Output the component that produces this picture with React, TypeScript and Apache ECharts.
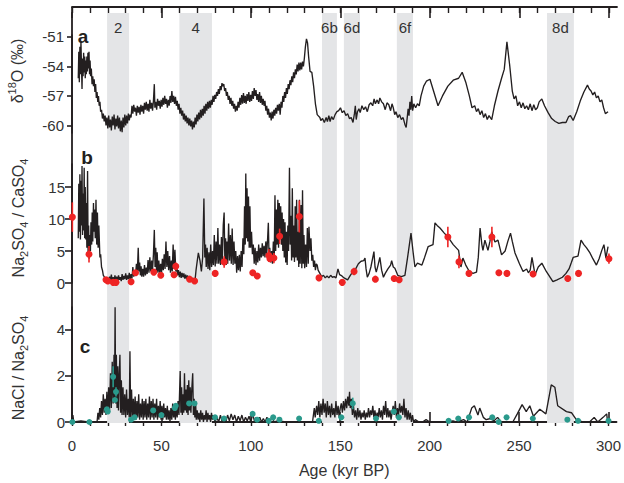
import React, { useEffect, useRef } from "react";
import * as echarts from "echarts";

const ageMajor = [0, 50, 100, 150, 200, 250, 300];
const ageMinor = [0, 10, 20, 30, 40, 50, 60, 70, 80, 90, 100, 110, 120, 130, 140, 150, 160, 170, 180, 190, 200, 210, 220, 230, 240, 250, 260, 270, 280, 290, 300];
const d18OTicks = [-60, -57, -54, -51];
const ratioBTicks = [0, 5, 10, 15];
const ratioCTicks = [0, 2, 4];

const stages = [
  { name: "2", from: 19.6, to: 31.9 },
  { name: "4", from: 60.0, to: 78.2 },
  { name: "6b", from: 139.7, to: 148.0 },
  { name: "6d", from: 151.9, to: 160.9 },
  { name: "6f", from: 181.5, to: 190.5 },
  { name: "8d", from: 265.4, to: 280.4 },
];

// panel a: δ18O (‰) vs age (kyr BP)
const d18O: [number, number][] = [
  [3.5,-55.2],[3.8,-52.5],[4.1,-55.6],[4.4,-52.0],[4.7,-54.8],[5.0,-51.5],[5.3,-54.0],[5.6,-56.3],[5.9,-53.2],[6.2,-55.0],[6.5,-52.6],[6.8,-54.6],[7.1,-53.0],[7.4,-55.2],[7.7,-53.4],[8.0,-54.8],[8.3,-53.0],[8.6,-54.5],[8.9,-52.6],[9.2,-54.2],[9.5,-52.5],[9.8,-54.8],[10.1,-53.4],[10.4,-55.0],[10.8,-54.2],[11.2,-55.8],[11.6,-55.0],[12.0,-56.0],[12.4,-55.3],[12.8,-56.6],[13.2,-55.8],[13.6,-57.2],[14.0,-56.6],[14.4,-57.6],[14.8,-57.0],[15.2,-58.0],[15.6,-57.6],[16.0,-58.6],[16.5,-58.4],[17.0,-59.3],[17.5,-58.8],[18.0,-59.6],
  [18.5,-59.0],[19.0,-60.0],[19.5,-59.2],[20.0,-60.3],[20.5,-59.0],[21.0,-60.2],[21.5,-59.4],[22.0,-60.5],[22.5,-59.1],[23.0,-60.0],[23.5,-58.9],[24.0,-60.4],[24.5,-59.3],[25.0,-60.1],[25.5,-59.0],[26.0,-60.3],[26.5,-59.2],[27.0,-60.6],[27.5,-59.5],[28.0,-60.7],[28.5,-59.2],[29.0,-60.2],[29.5,-58.9],[30.0,-60.0],[30.5,-59.0],[31.0,-59.8],[31.5,-58.8],[32.0,-59.5],[32.5,-58.9],[33.0,-59.2],
  [33.5,-58.0],[34.0,-58.8],[34.5,-57.9],[35.0,-58.6],[35.5,-58.2],[36.0,-59.0],[36.5,-58.0],[37.0,-58.7],[37.5,-58.1],[38.0,-58.9],[38.5,-57.9],[39.0,-58.6],[39.5,-58.0],[40.0,-58.8],[40.5,-57.7],[41.0,-58.4],[41.5,-57.6],[42.0,-58.5],[42.5,-57.8],[43.0,-58.6],[43.5,-57.4],[44.0,-58.3],[44.5,-57.7],[45.0,-58.5],[45.5,-57.5],[46.0,-55.8],[46.3,-58.2],[46.8,-57.6],[47.3,-58.4],[47.8,-57.3],[48.3,-58.0],[48.8,-57.5],[49.3,-58.3],[49.8,-57.4],[50.3,-58.1],[50.8,-57.2],[51.3,-57.9],[51.8,-57.0],[52.3,-57.8],[52.8,-57.3],[53.3,-58.2],[53.8,-57.4],[54.3,-58.0],[54.8,-57.0],[55.3,-57.7],[55.8,-56.5],[56.3,-57.6],[56.8,-57.0],[57.3,-57.8],[57.8,-57.1],[58.3,-58.0],[58.8,-57.5],[59.3,-58.4],[59.8,-57.8],
  [60.3,-58.8],[60.8,-58.2],[61.3,-59.0],[61.8,-58.5],[62.3,-59.4],[62.8,-58.8],[63.3,-59.6],[63.8,-59.0],[64.3,-59.8],[64.8,-59.2],[65.3,-60.0],[65.8,-59.3],[66.3,-60.1],[66.8,-59.5],[67.3,-60.4],[67.8,-59.6],[68.3,-60.2],[68.8,-59.2],[69.3,-59.9],[69.8,-58.9],[70.3,-59.6],[70.8,-58.7],[71.3,-59.4],[71.8,-58.4],[72.3,-59.2],[72.8,-58.3],[73.3,-59.0],[73.8,-58.0],[74.3,-58.8],[74.8,-57.8],[75.3,-58.5],[75.8,-57.6],[76.3,-58.3],[76.8,-57.5],[77.3,-58.2],[77.8,-57.4],[78.3,-57.9],[78.8,-57.0],[79.3,-57.6],[79.8,-56.9],[80.3,-57.3],[80.8,-56.6],[81.3,-57.0],[81.8,-56.3],[82.3,-56.8],[82.8,-56.0],[83.3,-56.4],[83.8,-55.7],[84.3,-56.0],[84.8,-55.8],[85.3,-56.5],[85.8,-56.2],[86.3,-57.0],[86.8,-56.6],[87.3,-57.4],[87.8,-57.0],[88.3,-57.8],[88.8,-57.2],[89.3,-58.0],[89.8,-57.5],[90.3,-58.3],[90.8,-57.8],[91.3,-58.6],[91.8,-58.0],[92.3,-58.5],[92.8,-57.6],[93.3,-58.2],[93.8,-57.2],[94.3,-57.9],[94.8,-56.9],[95.3,-57.8],[95.8,-56.7],[96.3,-57.7],[96.8,-57.0],[97.3,-57.8],[97.8,-56.8],[98.3,-57.5],[98.8,-56.6],[99.3,-57.6],[99.8,-56.9],[100.3,-57.5],[100.8,-56.5],[101.3,-57.3],[101.8,-56.2],[102.3,-57.0],[102.8,-56.4],[103.3,-57.4],[103.8,-56.8],[104.3,-57.6],[104.8,-56.6],[105.3,-57.7],[105.8,-57.0],[106.3,-57.9],[106.8,-57.3],[107.3,-58.0],[107.8,-57.5],[108.3,-58.5],[108.8,-58.0],[109.3,-58.9],[109.8,-58.3],[110.3,-59.2],[110.8,-58.7],[111.3,-59.5],[111.8,-58.6],[112.3,-59.3],[112.8,-58.4],[113.3,-59.0],[113.8,-58.2],[114.3,-58.8],[114.8,-57.9],[115.3,-58.5],[115.8,-57.8],[116.3,-58.9],[116.8,-57.6],[117.3,-58.2],[117.8,-57.0],[118.3,-57.6],[118.8,-56.6],[119.3,-57.2],[119.8,-56.2],[120.3,-56.8],[120.8,-55.8],[121.3,-56.3],[121.8,-55.4],[122.3,-55.9],[122.8,-55.0],[123.3,-55.6],[123.8,-54.6],[124.3,-55.2],[124.8,-54.3],[125.3,-54.8],[125.8,-53.8],[126.3,-54.5],[126.8,-53.6],[127.3,-54.4],[127.8,-53.6],[128.3,-54.3],[128.8,-53.5],[129.3,-54.0],[129.8,-53.2],[130.4,-52.0],[131.0,-51.2],[131.6,-51.6],[132.2,-53.0],[133.0,-54.5],[134.0,-54.6],[135.0,-56.0],[136.0,-57.8],[137.0,-58.9],
  [137.5,-59.0],[138.5,-59.2],[139.0,-59.5],[140.0,-59.3],[141.0,-59.7],[142.0,-59.2],[142.7,-59.6],[143.5,-59.0],[144.2,-59.6],[145.0,-59.1],[146.0,-59.4],[147.0,-58.9],[148.0,-58.6],[149.0,-58.5],[150.0,-58.2],[151.0,-58.7],[152.0,-58.5],[153.0,-59.0],[154.0,-58.8],[155.0,-59.3],[156.0,-59.2],[157.0,-59.7],[157.8,-58.8],[158.3,-58.0],[158.8,-59.4],[159.5,-58.6],[160.3,-58.3],[161.0,-58.7],[162.0,-58.0],[163.0,-58.4],[164.0,-58.1],[165.0,-58.6],[166.0,-57.9],[167.0,-57.7],[168.0,-58.0],[168.8,-57.3],[169.5,-57.8],[170.5,-57.4],[171.3,-57.8],[172.0,-57.2],[173.0,-57.6],[174.0,-57.8],[175.0,-58.4],[176.0,-57.7],[177.0,-57.9],[178.0,-58.5],[178.8,-57.8],[179.5,-58.2],[180.3,-58.9],[181.0,-58.6],[182.0,-59.2],[183.0,-58.9],[184.0,-59.4],[185.0,-59.2],[186.0,-59.9],[186.7,-60.2],[187.3,-59.2],[187.8,-58.3],[188.3,-59.0],[188.8,-57.6],[189.3,-58.4],[189.8,-57.0],[190.3,-58.5],[191.0,-57.8],[192.0,-58.2],[193.0,-57.8],[194.0,-58.0],[195.0,-57.0],[196.5,-56.0],[198.0,-55.5],[200.0,-55.3],[202.0,-56.5],[204.5,-58.0],[207.0,-57.0],[210.0,-56.0],[213.0,-55.4],[216.0,-55.2],[218.0,-54.6],[220.0,-55.6],[222.0,-57.0],[223.5,-58.2],[225.0,-58.0],[226.0,-58.6],[227.0,-58.3],[228.0,-58.9],[229.0,-58.5],[230.0,-59.2],[231.0,-58.8],[232.0,-59.4],[233.0,-59.0],[234.5,-59.4],[236.0,-58.0],[238.0,-56.5],[240.0,-55.2],[241.5,-54.3],[243.0,-51.5],[244.5,-53.8],[246.0,-56.5],[247.0,-57.3],[248.0,-57.0],[249.0,-58.0],[250.0,-57.6],[251.0,-58.2],[252.0,-57.7],[253.0,-58.3],[254.0,-58.0],[255.0,-58.4],[256.0,-57.8],[257.0,-58.5],[258.0,-57.9],[259.0,-58.4],[260.0,-58.2],[261.0,-57.6],[262.5,-57.3],[264.0,-58.0],[266.0,-58.7],[268.0,-59.3],[270.0,-59.6],[272.0,-59.8],[274.0,-59.7],[276.0,-59.7],[277.5,-59.1],[278.5,-59.0],[280.0,-59.5],[282.0,-58.6],[284.0,-57.5],[286.0,-56.6],[288.0,-55.9],[289.0,-56.3],[290.0,-56.5],[291.0,-56.9],[292.0,-56.6],[293.0,-57.2],[294.0,-57.0],[295.0,-57.6],[296.0,-57.4],[297.0,-58.2],[298.0,-58.8],[299.5,-58.6],
];

// panel b: Na2SO4 / CaSO4
const naSO4: [number, number][] = [
  [3.5,7.0],[3.8,15.5],[4.1,8.0],[4.4,17.0],[4.7,6.8],[5.0,16.0],[5.3,9.0],[5.6,18.3],[5.9,7.5],[6.2,14.0],[6.5,8.2],[6.8,18.0],[7.1,7.0],[7.4,15.0],[7.7,6.8],[8.0,12.5],[8.3,5.5],[8.7,17.5],[9.0,4.2],[9.3,9.0],[9.6,3.8],[10.0,7.5],[10.3,5.0],[10.6,9.5],[11.0,6.0],[11.3,11.0],[11.6,6.5],[12.0,12.5],[12.3,8.0],[12.6,11.5],[13.0,7.0],[13.4,13.0],[13.8,6.0],[14.2,11.0],[14.6,5.5],[15.0,9.0],[15.6,4.0],[16.0,4.5],[16.5,2.5],[17.0,2.0],[17.5,1.2],[18.0,1.0],[18.5,0.5],[19.0,0.9],[19.5,0.3],[20.0,0.8],[20.5,0.2],[21.0,1.0],[21.5,0.4],[22.0,1.3],[22.5,0.2],[23.0,0.9],[23.5,0.3],[24.0,1.2],[24.5,0.4],[25.0,1.0],[25.5,0.3],[26.0,1.2],[26.5,0.5],[27.0,0.9],[27.5,0.3],[28.0,1.4],[28.5,0.5],[29.0,1.1],[29.5,0.6],[30.0,1.5],[30.5,0.5],[31.0,1.2],[31.5,0.6],[32.0,1.6],[32.5,0.5],[33.0,1.4],[33.5,0.7],[34.0,2.5],[34.5,1.0],[35.0,2.0],[35.5,1.2],[36.0,3.0],[36.5,1.5],[37.0,5.5],[37.4,1.8],[37.8,3.2],[38.2,1.2],[38.6,2.6],[39.0,1.0],[39.5,2.2],[40.0,1.0],[40.5,2.8],[41.0,1.2],[41.5,2.4],[42.0,1.4],[42.5,3.6],[43.0,1.6],[43.5,4.0],[44.0,1.8],[44.5,3.5],[45.0,2.0],[45.5,4.5],[46.0,8.3],[46.4,2.5],[46.8,5.5],[47.2,1.8],[47.6,4.8],[48.0,1.6],[48.5,3.5],[49.0,1.4],[49.5,3.0],[50.0,1.5],[50.5,3.8],[51.0,2.0],[51.5,4.5],[52.0,2.2],[52.5,6.5],[53.0,2.5],[53.5,5.0],[54.0,2.0],[54.5,4.2],[55.0,1.6],[55.5,3.5],[56.0,1.8],[56.5,6.0],[57.0,2.2],[57.5,5.2],[58.0,1.8],[58.6,2.5],[59.0,1.2],[59.5,2.0],[60.0,0.9],[60.5,1.8],[61.0,0.8],[61.5,1.6],[62.0,0.9],[62.5,1.5],[63.0,0.7],[63.5,1.3],[64.0,0.6],[64.5,1.2],[65.0,0.6],[65.5,1.0],[66.0,0.5],[66.5,0.9],[67.0,0.4],[67.5,0.8],[68.0,0.4],[68.7,0.3],[69.3,2.0],[70.0,3.5],[70.6,4.7],[71.5,3.5],[72.3,1.8],[73.0,4.0],[73.7,13.2],[74.2,4.0],[74.6,6.0],[75.0,2.5],[75.5,5.5],[76.0,2.2],[76.5,4.8],[77.0,2.0],[77.5,6.0],[78.0,2.5],[78.5,5.0],[79.0,2.8],[79.5,7.5],[80.0,2.6],[80.5,6.5],[81.0,3.0],[81.5,8.6],[82.0,3.0],[82.5,6.0],[83.0,2.8],[83.5,7.2],[84.0,3.2],[84.5,9.0],[85.0,11.0],[85.4,3.5],[85.8,7.0],[86.2,2.8],[86.6,6.5],[87.0,3.0],[87.5,9.3],[88.0,3.5],[88.5,7.5],[89.0,3.0],[89.5,8.5],[90.0,2.8],[90.5,6.5],[91.0,3.0],[91.5,5.0],[92.0,1.6],[92.5,4.2],[93.0,2.0],[93.5,4.4],[94.0,1.8],[94.5,5.0],[95.0,2.5],[95.5,7.0],[96.0,4.5],[96.4,12.0],[96.8,6.0],[97.1,17.1],[97.4,7.0],[97.8,14.8],[98.2,6.5],[98.6,13.5],[99.0,5.5],[99.4,12.0],[99.8,5.5],[100.3,8.0],[100.8,4.5],[101.3,6.0],[101.8,3.0],[102.3,5.5],[102.8,2.8],[103.3,5.0],[103.8,3.2],[104.3,6.0],[104.8,3.5],[105.3,5.5],[105.8,4.0],[106.3,6.2],[106.8,4.2],[107.3,5.8],[107.8,4.0],[108.3,6.5],[108.8,4.5],[109.3,7.0],[109.7,9.4],[110.1,4.0],[110.5,5.5],[111.0,3.2],[111.5,5.0],[112.0,3.0],[112.5,6.5],[113.0,4.0],[113.4,13.7],[113.8,5.0],[114.2,11.5],[114.6,6.0],[115.0,13.0],[115.4,5.5],[115.8,12.5],[116.2,7.0],[116.6,12.0],[117.0,6.0],[117.4,11.0],[117.8,5.0],[118.2,10.0],[118.6,4.0],[119.0,9.5],[119.4,3.2],[119.8,8.0],[120.2,2.8],[120.6,9.0],[121.0,5.0],[121.5,18.0],[121.9,6.0],[122.3,10.5],[122.7,3.5],[123.1,14.8],[123.5,4.0],[123.9,9.0],[124.3,3.3],[124.7,12.0],[125.1,4.0],[125.5,13.0],[125.9,3.5],[126.3,8.0],[126.7,2.5],[127.1,13.0],[127.5,3.0],[128.0,12.2],[128.4,2.3],[128.8,14.5],[129.2,3.0],[129.6,7.5],[130.0,2.3],[130.5,6.0],[131.0,2.5],[131.5,8.6],[132.0,3.0],[132.4,8.8],[133.0,5.0],[133.5,7.0],[134.0,3.5],[134.5,4.4],[135.0,2.5],[135.5,3.5],[136.0,2.0],[136.5,3.0],[137.0,2.8],[137.5,2.0],[138.5,1.5],[139.5,1.0],[140.5,1.2],[141.5,0.8],[142.5,1.1],[143.5,0.8],[144.5,1.2],[145.5,0.9],[146.5,1.0],[147.5,0.8],[148.6,2.2],[149.5,1.3],[150.8,1.1],[152.0,0.8],[154.0,0.5],[155.5,1.2],[157.0,1.8],[158.5,2.2],[160.0,3.0],[161.5,3.4],[163.0,3.5],[163.7,3.9],[164.3,2.2],[165.0,0.9],[166.0,1.5],[167.0,2.5],[168.7,4.9],[169.3,2.5],[170.0,1.7],[171.0,2.8],[172.0,4.0],[173.0,2.0],[174.0,0.9],[175.0,1.5],[176.5,2.2],[178.0,2.8],[178.6,3.5],[179.5,2.5],[180.4,2.3],[182.0,1.2],[184.0,1.0],[186.0,1.2],[187.5,4.0],[189.4,7.8],[190.5,5.0],[191.6,2.5],[193.0,3.1],[195.5,2.8],[197.0,4.0],[199.0,5.7],[201.7,6.0],[202.8,9.4],[204.0,9.0],[205.6,8.6],[208.0,7.8],[210.0,7.2],[213.0,6.0],[216.0,5.1],[217.3,2.5],[218.4,3.9],[220.0,2.8],[222.0,1.8],[224.0,1.5],[226.0,1.7],[227.0,4.0],[228.0,8.6],[229.0,6.0],[229.6,5.1],[230.7,6.7],[232.4,5.1],[233.5,6.5],[234.5,8.0],[236.3,6.4],[238.0,6.7],[240.0,4.4],[242.0,5.0],[243.5,6.5],[245.0,7.8],[246.0,6.5],[247.5,4.7],[250.0,3.0],[252.0,1.8],[254.0,2.2],[255.0,1.6],[256.0,2.0],[257.0,4.0],[258.7,1.3],[260.5,2.5],[262.5,3.1],[265.0,1.8],[268.7,0.2],[271.0,0.5],[274.0,0.9],[276.0,1.5],[277.7,2.2],[279.0,3.2],[280.0,4.0],[282.7,4.2],[284.4,6.7],[286.0,6.0],[287.5,5.5],[289.4,4.7],[291.0,3.8],[293.0,2.8],[294.5,3.8],[296.0,5.1],[297.2,6.0],[298.3,3.9],[299.5,5.7],
];

// panel b discrete samples: [age, value, error]
const naSO4Samples: [number, number, number][] = [
  [0.2,10.3,2.3],[9.5,4.5,1.3],[19.0,0.5,0],[20.0,0.3,0],[23.0,0.1,0],[24.6,0.1,0],[33.0,0.2,0],[35.5,1.6,0.3],[45.7,1.7,0.4],[49.6,1.2,0],[57.0,1.3,0],[58.0,2.6,0.6],[65.7,0.6,0],[68.5,0.3,0],[80.0,1.5,0],[85.0,3.3,0.9],[101.0,1.6,0],[103.5,1.1,0],[110.0,4.3,1.0],[110.6,3.8,0],[112.8,3.9,0.8],[116.0,7.3,1.2],[127.0,10.4,2.5],[138.0,0.8,0],[151.0,0.1,0],[157.6,1.8,0.6],[169.5,0.6,0],[180.0,0.7,0],[182.8,0.5,0],[210.0,7.2,1.6],[216.2,3.3,1.0],[221.8,1.5,0.5],[234.6,7.2,1.6],[238.5,1.6,0],[243.0,1.5,0],[257.6,1.4,0],[277.0,0.7,0],[283.0,1.5,0],[300.0,3.8,0.8],
];

// panel c: NaCl / Na2SO4
const naCl: [number, number][] = [
  [0.0,0.0],[0.5,0.3],[1.0,0.0],[5.0,0.05],[9.0,0.0],[13.0,0.0],[14.0,0.0],[14.5,0.4],[15.0,0.1],[15.5,0.6],[16.0,0.2],[16.5,0.9],[17.0,0.3],[17.5,1.2],[18.0,0.4],[18.5,1.0],[19.0,0.3],[19.5,1.3],[20.0,0.4],[20.5,1.5],[21.0,0.5],[21.5,2.1],[22.0,0.6],[22.5,2.6],[23.0,0.8],[23.5,2.9],[23.8,1.0],[24.1,4.95],[24.4,0.8],[24.8,2.9],[25.2,0.6],[25.6,2.4],[26.0,0.5],[26.4,2.0],[26.8,2.9],[27.2,0.4],[27.6,1.8],[28.0,0.3],[28.5,1.5],[29.0,0.3],[29.5,1.2],[30.0,0.2],[30.5,1.4],[31.0,0.3],[31.5,1.0],[32.0,0.2],[32.4,3.05],[32.8,0.2],[33.3,1.4],[33.8,0.1],[34.3,1.0],[34.8,0.2],[35.3,1.1],[35.8,0.1],[36.3,0.9],[36.8,0.2],[37.3,1.2],[37.8,0.1],[38.3,0.8],[38.8,0.2],[39.3,1.0],[39.8,0.1],[40.3,0.9],[40.8,0.2],[41.3,1.0],[41.8,0.1],[42.3,0.8],[42.8,0.2],[43.3,1.1],[43.8,0.1],[44.3,0.9],[44.8,0.2],[45.3,1.0],[45.8,0.1],[46.3,0.8],[46.8,0.2],[47.3,1.0],[47.8,0.1],[48.3,0.7],[48.8,0.2],[49.3,0.9],[49.8,0.1],[50.3,0.7],[50.8,0.1],[51.3,0.8],[51.8,0.2],[52.3,0.6],[52.8,0.1],[53.3,0.7],[53.8,0.1],[54.3,0.5],[54.8,0.0],[55.3,0.6],[55.8,0.1],[56.3,0.8],[56.8,0.2],[57.3,0.5],[57.8,0.1],[58.3,0.7],[58.8,0.2],[59.3,0.9],[59.8,0.3],[60.5,2.2],[60.9,0.4],[61.3,1.5],[61.7,0.3],[62.1,1.2],[62.5,0.4],[62.9,2.1],[63.3,0.5],[63.7,1.4],[64.1,0.4],[64.5,1.6],[64.9,0.3],[65.3,1.8],[65.7,0.5],[66.1,1.5],[66.5,0.4],[66.9,1.3],[67.5,2.1],[67.9,0.3],[68.3,1.0],[68.7,0.2],[69.1,0.9],[69.5,0.1],[70.0,0.5],[70.5,0.1],[71.0,0.4],[71.5,0.0],[72.0,0.5],[72.5,0.1],[73.0,0.4],[73.5,0.0],[74.0,0.3],[74.5,0.1],[75.0,0.5],[75.5,0.0],[76.0,0.4],[76.5,0.1],[77.0,0.3],[77.5,0.0],[78.0,0.4],[78.5,0.1],[79.0,0.3],[80.0,0.0],[81.0,0.2],[82.0,0.0],[83.0,0.3],[84.0,0.0],[85.0,0.15],[86.0,0.0],[87.0,0.3],[88.0,0.05],[89.0,0.35],[90.0,0.1],[91.0,0.3],[92.0,0.0],[93.0,0.25],[94.0,0.05],[95.0,0.3],[96.0,0.0],[97.0,0.2],[98.0,0.05],[99.0,0.25],[100.0,0.0],[101.0,0.35],[102.0,0.05],[103.0,0.2],[104.0,0.0],[105.0,0.2],[106.0,0.0],[107.0,0.15],[108.0,0.0],[109.0,0.2],[110.0,0.0],[112.0,0.2],[113.0,0.0],[115.0,0.05],[120.0,0.0],[125.0,0.0],[130.0,0.0],[134.5,0.0],[135.5,0.6],[136.0,0.2],[136.8,0.7],[137.4,0.3],[138.0,0.9],[138.6,0.2],[139.2,0.8],[139.8,0.3],[140.4,1.0],[141.0,0.4],[141.6,0.8],[142.2,0.2],[142.8,0.9],[143.4,0.3],[144.0,0.7],[144.6,0.2],[145.2,0.8],[145.8,0.3],[146.4,0.6],[147.0,0.2],[147.6,0.9],[148.2,0.3],[148.8,0.7],[149.4,0.2],[150.0,0.6],[150.6,0.8],[151.2,0.4],[151.8,0.9],[152.4,0.5],[153.0,1.0],[153.6,0.6],[154.2,1.1],[154.8,0.7],[155.2,1.3],[155.6,0.6],[156.2,1.0],[156.8,0.3],[157.4,0.7],[158.0,0.2],[158.6,0.5],[159.2,0.1],[159.8,0.6],[160.4,0.2],[161.0,0.5],[161.6,0.1],[162.2,0.4],[162.8,0.2],[163.4,0.5],[164.0,0.1],[164.6,0.4],[165.2,0.2],[165.8,0.6],[166.4,0.2],[167.0,0.5],[167.6,0.3],[168.2,0.7],[168.8,0.2],[169.4,0.5],[170.0,0.1],[170.6,0.4],[171.2,0.2],[171.8,0.6],[172.4,0.2],[173.0,0.5],[173.6,0.1],[174.2,0.7],[174.8,0.3],[175.4,0.9],[176.0,0.2],[176.6,0.6],[177.2,0.2],[177.8,0.5],[178.4,0.1],[179.0,0.4],[179.6,0.7],[180.2,0.3],[180.8,0.9],[181.4,0.2],[182.0,0.6],[182.6,0.3],[183.2,0.8],[183.8,0.4],[184.4,0.7],[185.0,0.3],[185.6,1.0],[186.2,0.2],[186.8,0.6],[187.4,0.1],[188.0,0.5],[188.6,0.1],[189.2,0.4],[189.8,0.0],[190.4,0.3],[191.0,0.0],[192.0,0.1],[194.0,0.0],[196.0,0.0],[198.0,0.1],[200.0,0.0],[205.0,0.0],[210.0,0.0],[213.0,0.05],[215.0,0.0],[219.0,0.1],[221.0,0.0],[223.5,0.6],[225.0,0.7],[227.0,0.3],[228.0,0.6],[230.0,0.2],[231.6,0.1],[234.0,0.15],[236.0,0.05],[238.0,0.2],[240.0,0.0],[243.0,0.0],[246.5,0.0],[249.0,0.35],[251.7,0.75],[254.0,0.45],[256.0,0.7],[258.0,0.25],[261.6,0.55],[265.0,0.35],[268.0,1.6],[270.0,1.5],[271.6,0.7],[276.5,0.45],[279.3,0.4],[282.0,0.1],[285.5,0.0],[289.4,0.0],[292.0,0.2],[294.0,0.0],[297.0,0.2],[299.0,0.35],[299.5,0.0],
];

// panel c discrete samples: [age, value, error]
const naClSamples: [number, number, number][] = [
  [0.2,0.0,0],[9.7,0.0,0],[19.5,0.55,0],[20.0,0.45,0.1],[23.0,1.95,0.45],[24.0,0.95,0],[24.6,1.3,0.2],[33.0,0.1,0],[35.0,0.2,0],[45.4,0.5,0],[50.0,0.3,0],[57.5,0.6,0],[58.0,0.7,0.1],[65.5,0.8,0.1],[68.5,0.8,0.1],[80.0,0.2,0],[85.0,0.15,0],[101.0,0.35,0],[103.5,0.1,0],[110.0,0.05,0],[112.5,0.2,0],[116.0,0.1,0],[127.0,0.15,0],[138.0,0.05,0],[150.6,0.2,0],[157.0,0.8,0.25],[170.0,0.15,0],[180.0,0.45,0.1],[182.8,0.2,0],[210.6,0.05,0],[216.0,0.15,0],[222.0,0.2,0],[235.0,0.2,0],[238.6,0.0,0],[243.0,0.2,0],[257.7,0.15,0],[277.0,0.1,0],[283.0,0.05,0],[300.0,0.05,0],
];

const FONT = "'Liberation Sans', Arial, Helvetica, sans-serif";
const INK = "#231f20";
const TXT = "#333333";
const RED = "#ee2424";
const TEAL = "#2a9a8c";
const SHADE = "#e4e5e7";
const X_MAX = 304.5;

function errorBars(color: string) {
  return (params: any, api: any) => {
    const e = api.value(2);
    if (!e) return null;
    const x = api.value(0);
    const y = api.value(1);
    const p1 = api.coord([x, y - e]);
    const p2 = api.coord([x, y + e]);
    return {
      type: "line",
      shape: { x1: p1[0], y1: p1[1], x2: p2[0], y2: p2[1] },
      style: { stroke: color, lineWidth: 1.6 },
    };
  };
}

export default function App() {
  const ref = useRef<HTMLDivElement>(null);
  useEffect(() => {
    if (!ref.current) return;
    const chart = echarts.init(ref.current, undefined, { renderer: "svg" });

    const hiddenX = (gridIndex: number) => ({
      type: "value", gridIndex, min: 0, max: X_MAX, show: false,
      splitLine: { show: false },
    });
    const yAx = (gridIndex: number, min: number, max: number, ticks: number[], offset: number, tickLen: number) => ({
      type: "value", gridIndex, min, max, position: "left", offset,
      axisLine: { show: true, lineStyle: { color: INK, width: 1.6 } },
      axisTick: { show: true, length: tickLen, customValues: ticks, lineStyle: { color: INK, width: 1.6 } },
      axisLabel: { show: true, customValues: ticks, fontFamily: FONT, fontSize: 15, color: TXT, margin: 3 },
      splitLine: { show: false },
    });

    const option: any = {
      animation: false,
      textStyle: { fontFamily: FONT },
      grid: [
        { left: 72, right: 7, top: 13, height: 410 },
        { left: 72, right: 7, top: 35, height: 98 },
        { left: 72, right: 7, top: 164, height: 119 },
        { left: 72, right: 7, top: 307, height: 115 },
      ],
      xAxis: [
        hiddenX(0),
        {
          type: "value", gridIndex: 1, min: 0, max: X_MAX, position: "top", offset: 28,
          axisLine: { show: true, lineStyle: { color: INK, width: 1.8 } },
          axisTick: { show: true, inside: true, length: 11, customValues: ageMajor, lineStyle: { color: INK, width: 1.6 } },
          axisLabel: { show: false },
          splitLine: { show: false },
        },
        {
          type: "value", gridIndex: 1, min: 0, max: X_MAX, position: "top", offset: 28,
          axisLine: { show: false },
          axisTick: { show: true, inside: true, length: 6, customValues: ageMinor, lineStyle: { color: INK, width: 1.4 } },
          axisLabel: { show: false },
          splitLine: { show: false },
        },
        hiddenX(2),
        {
          type: "value", gridIndex: 3, min: 0, max: X_MAX, position: "bottom", offset: 4,
          axisLine: { show: true, lineStyle: { color: INK, width: 1.8 } },
          axisTick: { show: true, inside: true, length: 10, customValues: ageMajor, lineStyle: { color: INK, width: 1.6 } },
          axisLabel: { show: true, customValues: ageMajor, fontFamily: FONT, fontSize: 15, color: TXT, margin: 12 },
          name: "Age (kyr BP)", nameLocation: "middle", nameGap: 36,
          nameTextStyle: { fontFamily: FONT, fontSize: 16, color: TXT },
          splitLine: { show: false },
        },
        {
          type: "value", gridIndex: 3, min: 0, max: X_MAX, position: "bottom", offset: 4,
          axisLine: { show: false },
          axisTick: { show: true, inside: true, length: 4, customValues: ageMinor, lineStyle: { color: INK, width: 1.4 } },
          axisLabel: { show: false },
          splitLine: { show: false },
        },
      ],
      yAxis: [
        {
          type: "value", gridIndex: 0, min: 0, max: 1, position: "right",
          axisLine: { show: true, lineStyle: { color: INK, width: 1.8 } },
          axisTick: { show: false }, axisLabel: { show: false }, splitLine: { show: false },
        },
        yAx(1, -60.77, -50.8, d18OTicks, 5, 5),
        yAx(2, 0, 18.6, ratioBTicks, 4, 7),
        yAx(3, 0, 4.96, ratioCTicks, 4, 7),
      ],
      graphic: [
        {
          type: "text", x: 17, y: 71, rotation: Math.PI / 2,
          style: {
            text: "{m|δ}{s|18}{m|O (‰)}",
            align: "center", verticalAlign: "middle",
            rich: {
              m: { fontFamily: FONT, fontSize: 16, lineHeight: 22, fill: TXT, verticalAlign: "middle" },
              s: { fontFamily: FONT, fontSize: 11, lineHeight: 15, fill: TXT, verticalAlign: "top" },
            },
          },
        },
        {
          type: "text", x: 18, y: 218, rotation: Math.PI / 2,
          style: {
            text: "{m|Na}{b|2}{m|SO}{b|4}{m| / CaSO}{b|4}",
            align: "center", verticalAlign: "middle",
            rich: {
              m: { fontFamily: FONT, fontSize: 16, lineHeight: 22, fill: TXT, verticalAlign: "middle" },
              b: { fontFamily: FONT, fontSize: 11, lineHeight: 13, fill: TXT, verticalAlign: "bottom" },
            },
          },
        },
        {
          type: "text", x: 18, y: 368, rotation: Math.PI / 2,
          style: {
            text: "{m|NaCl / Na}{b|2}{m|SO}{b|4}",
            align: "center", verticalAlign: "middle",
            rich: {
              m: { fontFamily: FONT, fontSize: 16, lineHeight: 22, fill: TXT, verticalAlign: "middle" },
              b: { fontFamily: FONT, fontSize: 11, lineHeight: 13, fill: TXT, verticalAlign: "bottom" },
            },
          },
        },
        { type: "text", x: 83, y: 36, style: { text: "a", fontFamily: FONT, fontSize: 19, fontWeight: "bold", fill: INK, align: "center", verticalAlign: "middle" } },
        { type: "text", x: 87, y: 157, style: { text: "b", fontFamily: FONT, fontSize: 19, fontWeight: "bold", fill: INK, align: "center", verticalAlign: "middle" } },
        { type: "text", x: 85, y: 346, style: { text: "c", fontFamily: FONT, fontSize: 19, fontWeight: "bold", fill: INK, align: "center", verticalAlign: "middle" } },
      ],
      series: [
        {
          type: "line", xAxisIndex: 0, yAxisIndex: 0, data: [], z: 1, silent: true,
          markArea: {
            silent: true,
            itemStyle: { color: SHADE },
            label: { show: true, position: "insideTop", distance: 7, color: TXT, fontFamily: FONT, fontSize: 15 },
            data: stages.map((s) => [{ xAxis: s.from, name: s.name }, { xAxis: s.to }]),
          },
        },
        {
          type: "line", xAxisIndex: 1, yAxisIndex: 1, data: d18O, showSymbol: false, z: 3,
          lineStyle: { color: INK, width: 1.35 },
        },
        {
          type: "line", xAxisIndex: 3, yAxisIndex: 2, data: naSO4, showSymbol: false, z: 3,
          lineStyle: { color: INK, width: 1.35 },
        },
        {
          type: "custom", xAxisIndex: 3, yAxisIndex: 2, data: naSO4Samples, z: 4, clip: false,
          renderItem: errorBars(RED),
        },
        {
          type: "scatter", xAxisIndex: 3, yAxisIndex: 2, data: naSO4Samples.map((d) => [d[0], d[1]]), z: 5,
          symbolSize: 7, itemStyle: { color: RED, opacity: 1 }, clip: false,
        },
        {
          type: "line", xAxisIndex: 4, yAxisIndex: 3, data: naCl, showSymbol: false, z: 3,
          lineStyle: { color: INK, width: 1.35 },
        },
        {
          type: "custom", xAxisIndex: 4, yAxisIndex: 3, data: naClSamples, z: 4, clip: false,
          renderItem: errorBars(TEAL),
        },
        {
          type: "scatter", xAxisIndex: 4, yAxisIndex: 3, data: naClSamples.map((d) => [d[0], d[1]]), z: 5,
          symbolSize: 6, itemStyle: { color: TEAL, opacity: 1 }, clip: false,
        },
      ],
    };
    chart.setOption(option);
    return () => chart.dispose();
  }, []);
  return (
    <div
      ref={ref}
      style={{ position: "fixed", left: 0, top: 0, width: 624, height: 483, background: "#fff" }}
    />
  );
}
